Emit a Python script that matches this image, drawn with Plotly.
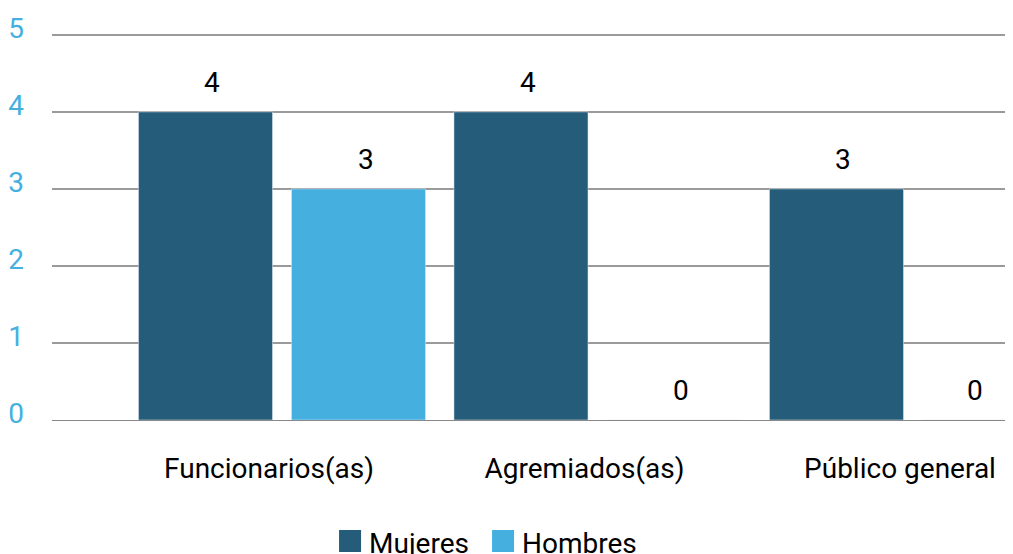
import plotly.graph_objects as go

categories = ["Funcionarios(as)", "Agremiados(as)", "Público general"]
mujeres = [4, 4, 3]
hombres = [3, 0, 0]
series_names = ["Mujeres", "Hombres"]
y_ticks = [0, 1, 2, 3, 4, 5]

C_MUJ = "#245C7A"
C_HOM = "#45B0E0"
FONT = "Roboto"

x_pos = list(range(len(categories)))
X_RANGE = [-0.729, 2.317]

fig = go.Figure()
fig.add_trace(go.Bar(name=series_names[0], x=x_pos, y=mujeres, marker_color=C_MUJ,
                     offsetgroup="m", showlegend=False))
fig.add_trace(go.Bar(name=series_names[1], x=x_pos, y=hombres, marker_color=C_HOM,
                     offsetgroup="h", showlegend=False))

half = 0.2425      # offset of each bar centre from category centre
bar_w = 0.4248     # bar width in axis units
for i, (m, h) in enumerate(zip(mujeres, hombres)):
    for val, dx in ((m, -half), (h, half)):
        left = i + dx - bar_w / 2
        right = min(i + dx + bar_w / 2, X_RANGE[1])
        fig.add_annotation(x=(left + right) / 2, y=val, text=str(val), showarrow=False,
                           yanchor="bottom", yshift=11, xshift=7,
                           font=dict(family=FONT, size=28, color="#000000"))

# custom legend (large square swatches)
PLOT_H = 389
legend_items = [(series_names[0], C_MUJ, 0.2987), (series_names[1], C_HOM, 0.4579)]
sq_w = 22 / 961
for name, col, x0 in legend_items:
    fig.add_shape(type="rect", xref="paper", yref="paper",
                  x0=x0, x1=x0 + sq_w, y0=-132 / PLOT_H, y1=-110 / PLOT_H,
                  fillcolor=col, line=dict(width=0))
    fig.add_annotation(xref="paper", yref="paper", x=x0 + sq_w + 6 / 961, y=-123 / PLOT_H,
                       xanchor="left", yanchor="middle", text=name, showarrow=False,
                       font=dict(family=FONT, size=28, color="#000000"))

fig.update_layout(
    width=1013, height=554,
    margin=dict(l=44, r=8, t=554 - 142 - PLOT_H, b=142),
    paper_bgcolor="white", plot_bgcolor="white",
    barmode="group", bargap=0.03, bargroupgap=0.124,
    font=dict(family=FONT, size=28, color="#000000"),
    showlegend=False,
    xaxis=dict(range=X_RANGE, tickvals=x_pos, ticktext=categories,
               showgrid=False, zeroline=False, showline=False, automargin=False,
               ticks="", ticklabelstandoff=29, ticklabelshift=-13,
               tickfont=dict(family=FONT, size=28, color="#000000")),
    yaxis=dict(range=[0, 5.05], tickvals=y_ticks, showgrid=True,
               gridcolor="#9a9a9a", gridwidth=1.5, automargin=False,
               zeroline=True, zerolinecolor="#888888", zerolinewidth=1.2,
               showline=False, ticks="", ticklabelstandoff=27, ticklabelshift=-7,
               tickfont=dict(family=FONT, size=28, color="#45B0E0")),
)

fig.write_html("out.html")
